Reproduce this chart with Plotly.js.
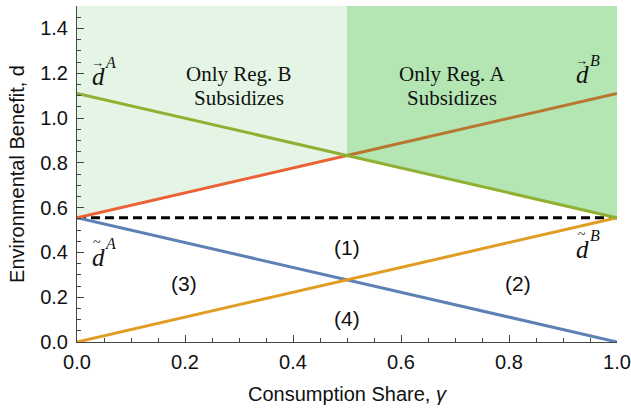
<!DOCTYPE html>
<html>
<head>
<meta charset="utf-8">
<script src="https://cdn.plot.ly/plotly-3.0.1.min.js"></script>
<style>html,body{margin:0;padding:0;background:#fff}#chart{width:631px;height:408px}</style>
</head>
<body>
<div id="chart"></div>
<script>
const gamma = [0, 0.5, 1];
const dVecA = [1.11, 0.8325, 0.555];
const dVecB = [0.555, 0.8325, 1.11];
const dTilA = [0.555, 0.2775, 0];
const dTilB = [0, 0.2775, 0.555];
const threshold = 0.555;
const yTop = 1.5;

const regionLines = ["Only Reg. B", "Subsidizes", "Only Reg. A", "Subsidizes"];
const regionX = [0.30, 0.30, 0.695, 0.695];
const regionY = [1.196, 1.09, 1.196, 1.09];
const caseLabels = ["(1)", "(2)", "(3)", "(4)"];
const caseX = [0.5, 0.817, 0.198, 0.5];
const caseY = [0.42, 0.26, 0.26, 0.105];
// symbol labels: base letter d, accent, superscript
const symAccent = ["\u2192", "\u2192", "~", "~"];
const symSup = ["A", "B", "A", "B"];
const symX = [0.039, 0.937, 0.039, 0.937];
const symY = [1.185, 1.194, 0.376, 0.412];

const traces = [
  {x: [gamma[0], gamma[1], gamma[1], gamma[0]], y: [dVecB[0], dVecB[1], yTop, yTop],
   fill: 'toself', fillcolor: '#e5f5e5', line: {width: 0}, mode: 'lines', hoverinfo: 'skip'},
  {x: [gamma[1], gamma[2], gamma[2], gamma[1]], y: [dVecA[1], dVecA[2], yTop, yTop],
   fill: 'toself', fillcolor: '#b3e6b3', line: {width: 0}, mode: 'lines', hoverinfo: 'skip'},
  {x: [gamma[0], gamma[2]], y: [threshold, threshold], mode: 'lines',
   line: {color: '#000', width: 3, dash: '9px,5px'}},
  {x: gamma, y: dTilA, mode: 'lines', line: {color: '#5E81B5', width: 3}},
  {x: gamma, y: dTilB, mode: 'lines', line: {color: '#E19C24', width: 3}},
  {x: gamma.slice(0, 2), y: dVecB.slice(0, 2), mode: 'lines', line: {color: '#EB6235', width: 3}},
  {x: gamma.slice(1), y: dVecB.slice(1), mode: 'lines', line: {color: '#B8772E', width: 3}},
  {x: gamma, y: dVecA, mode: 'lines', line: {color: '#8FB032', width: 3}}
];

const serif = 'Liberation Serif, Times New Roman, serif';
const sans = 'Liberation Sans, Arial, sans-serif';
const annotations = [];
regionLines.forEach((t, i) => annotations.push({x: regionX[i], y: regionY[i], text: t, showarrow: false,
  font: {family: serif, size: 21, color: '#111'}}));
caseLabels.forEach((t, i) => annotations.push({x: caseX[i], y: caseY[i], text: t, showarrow: false,
  font: {family: sans, size: 21, color: '#111'}}));
symX.forEach((x, i) => {
  annotations.push({x: x, y: symY[i], text: '<i>d</i>', showarrow: false,
    font: {family: serif, size: 25, color: '#111'}});
  annotations.push({x: x, y: symY[i], yshift: symAccent[i] === '~' ? 15 : 14, xshift: -1,
    text: symAccent[i], showarrow: false,
    font: {family: serif, size: symAccent[i] === '~' ? 14 : 13, color: '#111'}});
  annotations.push({x: x, y: symY[i], xshift: 12, yshift: 14, text: '<i>' + symSup[i] + '</i>', showarrow: false,
    font: {family: serif, size: 16, color: '#111'}});
});

const tickFont = {family: sans, size: 20, color: '#111'};
const layout = {
  width: 631, height: 408,
  margin: {l: 77, r: 14, t: 6, b: 66},
  showlegend: false,
  paper_bgcolor: '#fff', plot_bgcolor: '#fff',
  xaxis: {range: [0, 1], dtick: 0.2, tickformat: '.1f', ticks: 'inside', ticklen: 7, tickcolor: '#444',
    minor: {dtick: 0.05, ticks: 'inside', ticklen: 4, tickcolor: '#444'},
    showgrid: false, zeroline: false, showline: true, linecolor: '#444', linewidth: 1,
    tickfont: tickFont, ticklabelstandoff: 2,
    title: {text: 'Consumption Share, <i>γ</i>', font: {family: sans, size: 20, color: '#111'}, standoff: 14}},
  yaxis: {range: [0, 1.5], dtick: 0.2, tickformat: '.1f', ticks: 'inside', ticklen: 7, tickcolor: '#444',
    minor: {dtick: 0.05, ticks: 'inside', ticklen: 4, tickcolor: '#444'},
    showgrid: false, zeroline: false, showline: true, linecolor: '#444', linewidth: 1,
    tickfont: tickFont, ticklabelstandoff: 4,
    title: {text: 'Environmental Benefit, d', font: {family: sans, size: 20, color: '#111'}, standoff: 10}},
  annotations: annotations
};
Plotly.newPlot('chart', traces, layout, {displayModeBar: false, staticPlot: true});
</script>
</body>
</html>
